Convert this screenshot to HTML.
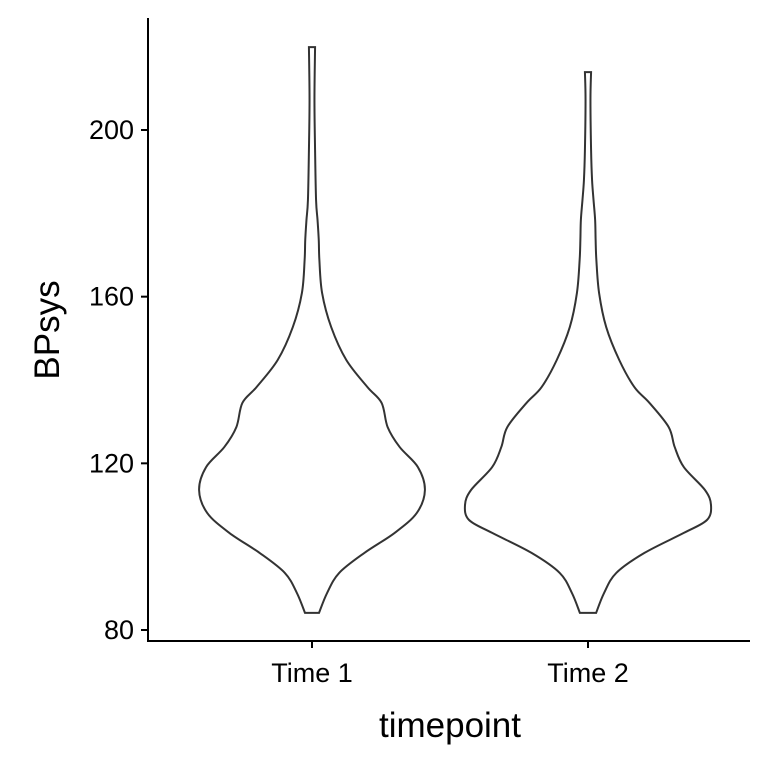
<!DOCTYPE html>
<html><head><meta charset="utf-8"><style>
body{margin:0;background:#fff}
svg{display:block;font-family:"Liberation Sans",sans-serif}
</style></head><body>
<svg id="chart" width="768" height="768" viewBox="0 0 768 768">
<rect width="768" height="768" fill="#fff"/>
<g id="plot"></g>
<g id="axes"></g>
<text x="450" y="737" font-size="35" text-anchor="middle" fill="#000">timepoint</text>
<text transform="translate(59,330) rotate(-90)" font-size="35" text-anchor="middle" fill="#000">BPsys</text>
</svg>
<script>
const categories = ["Time 1", "Time 2"];
const yTicks = [80, 120, 160, 200];
const t1Values  = [84.1, 88.9, 93.7, 98.5, 103.3, 108.1, 113.6, 119.1, 123.9, 128.7, 134.5, 138.3, 144.8, 152.7, 160.9, 168.8, 173.6, 178.4, 183.2, 195.2, 207.2, 219.9];
const t1Density = [0.057, 0.123, 0.221, 0.426, 0.672, 0.852, 0.918, 0.861, 0.713, 0.615, 0.566, 0.451, 0.279, 0.156, 0.082, 0.060, 0.055, 0.045, 0.033, 0.025, 0.020, 0.025];
const t2Values  = [84.1, 88.9, 93.7, 98.5, 103.3, 106.4, 110.0, 113.6, 119.1, 123.9, 128.7, 134.5, 138.3, 144.8, 152.7, 160.9, 168.8, 173.6, 178.4, 183.2, 188.0, 195.2, 207.2, 213.9];
const t2Density = [0.066, 0.131, 0.230, 0.459, 0.779, 0.967, 1.0, 0.951, 0.779, 0.705, 0.656, 0.500, 0.377, 0.254, 0.148, 0.090, 0.068, 0.062, 0.058, 0.045, 0.033, 0.025, 0.020, 0.025];
const series = [[t1Values, t1Density], [t2Values, t2Density]];

const NS = "http://www.w3.org/2000/svg";
const plotL = 148, plotR = 750;
const yScale = v => 630 - (v - 80) * (500 / 120);
const xScale = i => 312 + i * 276;
const wScale = d => d * 123;

function spline(pts) {
  let s = "";
  for (let i = 0; i < pts.length - 1; i++) {
    const p0 = pts[Math.max(i - 1, 0)], p1 = pts[i], p2 = pts[i + 1], p3 = pts[Math.min(i + 2, pts.length - 1)];
    const c1 = [p1[0] + (p2[0] - p0[0]) / 6, p1[1] + (p2[1] - p0[1]) / 6];
    const c2 = [p2[0] - (p3[0] - p1[0]) / 6, p2[1] - (p3[1] - p1[1]) / 6];
    s += ` C${c1[0].toFixed(2)},${c1[1].toFixed(2)} ${c2[0].toFixed(2)},${c2[1].toFixed(2)} ${p2[0].toFixed(2)},${p2[1].toFixed(2)}`;
  }
  return s;
}

const plot = document.getElementById("plot");
series.forEach(([vals, dens], i) => {
  const cx = xScale(i);
  const right = vals.map((v, k) => [cx + wScale(dens[k]), yScale(v)]);
  const left = vals.map((v, k) => [cx - wScale(dens[k]), yScale(v)]).reverse();
  let d = `M${right[0][0]},${right[0][1]}` + spline(right) + ` L${left[0][0]},${left[0][1]}` + spline(left) + " Z";
  const p = document.createElementNS(NS, "path");
  p.setAttribute("d", d);
  p.setAttribute("fill", "#fff");
  p.setAttribute("stroke", "#333");
  p.setAttribute("stroke-width", "2");
  
  
  plot.appendChild(p);
});

const axes = document.getElementById("axes");
function el(tag, attrs) {
  const e = document.createElementNS(NS, tag);
  for (const k in attrs) e.setAttribute(k, attrs[k]);
  axes.appendChild(e);
  return e;
}
const ya = el("line", {x1: plotL, y1: 18, x2: plotL, y2: 642, stroke: "#000", "stroke-width": 2});


const xa = el("line", {x1: plotL - 1, y1: 641, x2: plotR, y2: 641, stroke: "#000", "stroke-width": 2});


yTicks.forEach(t => {
  const y = yScale(t);
  const tk = el("line", {x1: 141, y1: y, x2: plotL, y2: y, stroke: "#000", "stroke-width": 2});
  
  
  const lb = el("text", {x: 134, y: y + 9, "font-size": 27, "text-anchor": "end", fill: "#000"});
  lb.textContent = t;
  
  
});
categories.forEach((c, i) => {
  const x = xScale(i);
  const tk = el("line", {x1: x, y1: 641, x2: x, y2: 648, stroke: "#000", "stroke-width": 2});
  
  
  const lb = el("text", {x: x, y: 682, "font-size": 27, "text-anchor": "middle", fill: "#000"});
  lb.textContent = c;
  
  
});
</script>
</body></html>
